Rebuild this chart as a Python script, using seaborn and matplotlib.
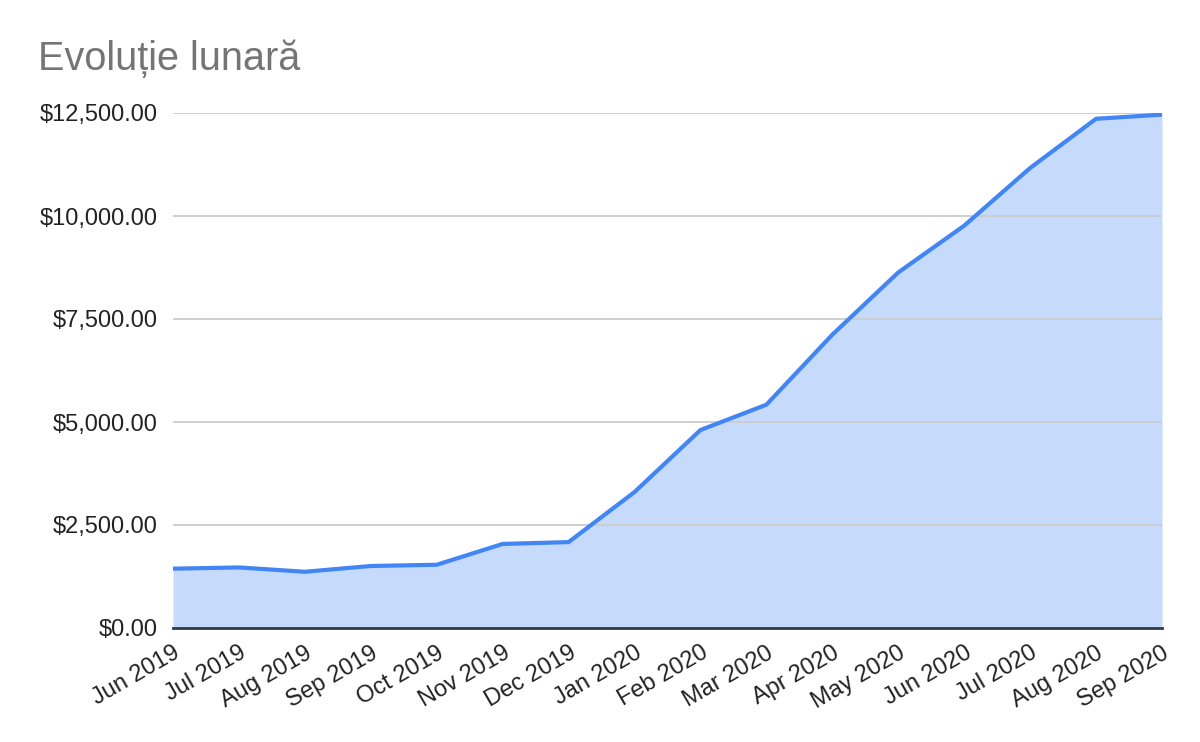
import matplotlib
matplotlib.use("Agg")
from matplotlib import pyplot as plt
from matplotlib.ticker import FuncFormatter
import seaborn as sns
import pandas as pd

months = ["Jun 2019", "Jul 2019", "Aug 2019", "Sep 2019", "Oct 2019", "Nov 2019",
          "Dec 2019", "Jan 2020", "Feb 2020", "Mar 2020", "Apr 2020", "May 2020",
          "Jun 2020", "Jul 2020", "Aug 2020", "Sep 2020"]
values = [1440, 1470, 1365, 1505, 1535, 2040, 2085, 3300, 4805, 5420,
          7120, 8630, 9765, 11165, 12360, 12460]
y_ticks = [0, 2500, 5000, 7500, 10000, 12500]

LINE = "#4285F4"
FILL = "#C6DAFC"

sns.set_style("white")
plt.rcParams["font.family"] = ["Liberation Sans", "DejaVu Sans"]

df = pd.DataFrame({"pos": range(len(months)), "month": months, "value": values})

fig = plt.figure(figsize=(12, 7.42), dpi=100)
ax = fig.add_axes([173 / 1200, 1 - 628 / 742, (1162 - 173) / 1200, (628 - 113) / 742])

ax.fill_between(df["pos"], df["value"], 0, color=FILL, linewidth=0, zorder=1)
sns.lineplot(data=df, x="pos", y="value", color=LINE, linewidth=3, ax=ax, zorder=3)

ax.set_xlim(0, len(months) - 1)
ax.set_ylim(0, 12500)
ax.set_yticks(y_ticks)
ax.yaxis.set_major_formatter(FuncFormatter(lambda v, p: "${:,.2f}".format(v)))
ax.set_xticks(df["pos"])
ax.set_xticklabels(months, rotation=30, ha="right", rotation_mode="anchor")

ax.grid(axis="y", color="#CCCCCC", linewidth=1.3, zorder=2)
ax.set_axisbelow(False)
for name in ["top", "right", "left"]:
    ax.spines[name].set_visible(False)
ax.spines["bottom"].set_color("#333A45")
ax.spines["bottom"].set_linewidth(2)
ax.spines["bottom"].set_zorder(4)

ax.tick_params(axis="y", labelsize=17, length=0, pad=11, colors="#222222")
ax.tick_params(axis="x", labelsize=17, length=0, pad=10, colors="#222222")
ax.set_xlabel("")
ax.set_ylabel("")

fig.text(38 / 1200, 1 - 70 / 742, "Evoluție lunară", fontsize=28.5, color="#757575",
         ha="left", va="baseline")

fig.savefig("out.png", dpi=100)
